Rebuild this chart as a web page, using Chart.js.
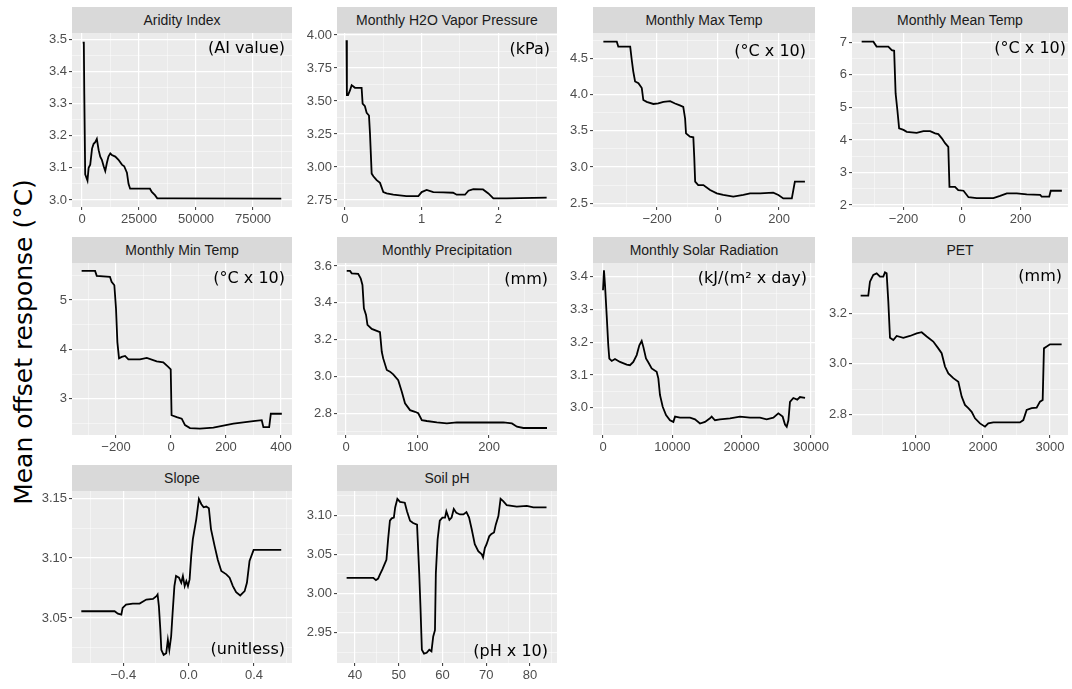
<!DOCTYPE html>
<html>
<head>
<meta charset="utf-8">
<script src="https://cdn.jsdelivr.net/npm/chart.js@4.4.0/dist/chart.umd.min.js"></script>
<style>
  body { margin: 0; background: #fff; width: 1072px; height: 689px; position: relative; overflow: hidden; font-family: "Liberation Sans", Arial, sans-serif; }
  canvas { position: absolute; }
  .strip { position: absolute; background: #d9d9d9; color: #1a1a1a; font-size: 14px; text-align: center; height: 26px; line-height: 26px; white-space: nowrap; }
  .unit { position: absolute; font-family: "DejaVu Sans", sans-serif; font-size: 16px; color: #000; white-space: nowrap; transform: translate(-100%, -50%); z-index: 5; }
  #ytitle { position: absolute; left: 23px; top: 342px; font-family: "DejaVu Sans", sans-serif; font-size: 25px; color: #000; white-space: nowrap; transform: translate(-50%, -50%) rotate(-90deg); }
</style>
</head>
<body>
<div id="ytitle">Mean offset response (°C)</div>
<script>
// ---- data ----
const aridityX = [300, 800, 1000, 1400, 1900, 2400, 2900, 3600, 4400, 5100, 5800, 6500, 7300, 8000, 8700, 9500, 10200, 10900, 11600, 12400, 13100, 14600, 16000, 17500, 18500, 19700, 20400, 21100, 22600, 27000, 29800, 30600, 32000, 33000, 34200, 40000, 87400];
const aridityY = [3.49, 3.49, 3.33, 3.08, 3.07, 3.06, 3.10, 3.11, 3.16, 3.175, 3.18, 3.19, 3.155, 3.135, 3.125, 3.105, 3.09, 3.115, 3.135, 3.145, 3.14, 3.135, 3.125, 3.11, 3.105, 3.085, 3.05, 3.035, 3.035, 3.035, 3.035, 3.025, 3.015, 3.005, 3.005, 3.005, 3.004];

const vaporX = [0.02, 0.025, 0.04, 0.065, 0.087, 0.11, 0.13, 0.20, 0.217, 0.23, 0.26, 0.283, 0.313, 0.326, 0.348, 0.37, 0.413, 0.457, 0.50, 0.543, 0.63, 0.80, 0.957, 1.0, 1.065, 1.152, 1.28, 1.41, 1.457, 1.565, 1.61, 1.674, 1.80, 1.87, 1.935, 2.11, 2.63];
const vaporY = [3.96, 3.545, 3.545, 3.58, 3.62, 3.61, 3.60, 3.60, 3.60, 3.48, 3.46, 3.41, 3.39, 3.255, 2.95, 2.93, 2.90, 2.88, 2.81, 2.80, 2.79, 2.78, 2.78, 2.81, 2.826, 2.81, 2.808, 2.805, 2.79, 2.79, 2.82, 2.833, 2.83, 2.80, 2.762, 2.762, 2.768];

const maxTempX = [-376, -332, -327, -288, -283, -278, -272, -261, -250, -245, -234, -212, -196, -179, -157, -141, -125, -114, -108, -105, -92, -81, -78, -75, -65, -48, -26, -4, 17, 50, 83, 105, 138, 181, 198, 214, 242, 252, 285];
const maxTempY = [4.73, 4.73, 4.66, 4.66, 4.48, 4.32, 4.18, 4.155, 4.09, 3.925, 3.90, 3.87, 3.877, 3.90, 3.91, 3.877, 3.85, 3.83, 3.67, 3.465, 3.42, 3.41, 3.14, 2.80, 2.752, 2.752, 2.683, 2.637, 2.615, 2.592, 2.615, 2.637, 2.637, 2.646, 2.615, 2.568, 2.568, 2.80, 2.80];

const meanTempX = [-343, -303, -292, -252, -240, -232, -227, -221, -215, -200, -189, -155, -132, -109, -92, -81, -69, -58, -47, -43, -24, -13, 5, 22, 50, 107, 130, 153, 187, 221, 267, 272, 298, 303, 341];
const meanTempY = [7.02, 7.02, 6.87, 6.87, 6.76, 6.74, 5.43, 4.92, 4.36, 4.31, 4.25, 4.22, 4.27, 4.27, 4.20, 4.18, 4.05, 3.90, 3.79, 2.56, 2.56, 2.46, 2.44, 2.24, 2.21, 2.21, 2.28, 2.36, 2.36, 2.33, 2.31, 2.26, 2.26, 2.44, 2.44];

const minTempX = [-325, -276, -270, -222, -216, -206, -200, -195, -189, -179, -167, -155, -113, -88, -52, -28, -10, -1, 2, 21, 39, 51, 69, 105, 154, 227, 299, 330, 336, 357, 363, 403];
const minTempY = [5.59, 5.59, 5.49, 5.47, 5.37, 5.30, 4.83, 4.15, 3.82, 3.85, 3.87, 3.80, 3.80, 3.83, 3.76, 3.74, 3.65, 3.60, 2.67, 2.63, 2.60, 2.47, 2.41, 2.40, 2.42, 2.50, 2.55, 2.57, 2.43, 2.43, 2.70, 2.70];

const precipX = [1, 5.6, 8, 17, 20.5, 23, 25, 28, 30, 36, 43, 47.5, 50, 52, 57, 61.5, 66, 73, 78, 82.5, 89.5, 96.5, 101, 106, 113, 127, 141, 155, 183, 220, 232, 239, 248, 281];
const precipY = [3.573, 3.573, 3.56, 3.557, 3.533, 3.497, 3.37, 3.334, 3.28, 3.258, 3.247, 3.24, 3.134, 3.098, 3.035, 3.026, 3.011, 2.98, 2.917, 2.854, 2.817, 2.808, 2.80, 2.763, 2.758, 2.75, 2.745, 2.75, 2.75, 2.75, 2.745, 2.727, 2.72, 2.72];

const solarX = [0, 140, 290, 530, 760, 910, 1260, 1730, 2450, 3420, 3890, 4370, 4860, 5240, 5580, 5820, 6200, 6530, 7020, 7740, 7980, 8220, 8610, 9090, 9660, 10150, 10390, 11110, 12550, 13270, 13990, 14710, 15430, 15670, 16150, 16870, 18320, 19760, 21200, 22640, 23600, 24570, 25290, 25910, 26250, 26500, 26740, 26970, 27450, 28020, 28410, 29140];
const solarY = [3.359, 3.42, 3.375, 3.283, 3.191, 3.15, 3.143, 3.149, 3.14, 3.132, 3.13, 3.14, 3.161, 3.191, 3.204, 3.186, 3.151, 3.139, 3.12, 3.11, 3.09, 3.039, 3.003, 2.978, 2.962, 2.957, 2.973, 2.97, 2.97, 2.965, 2.952, 2.957, 2.968, 2.973, 2.962, 2.965, 2.968, 2.973, 2.97, 2.97, 2.965, 2.97, 2.983, 2.973, 2.949, 2.942, 2.962, 3.018, 3.03, 3.025, 3.033, 3.03];

const petX = [174, 288, 313, 339, 363, 413, 463, 512, 537, 562, 587, 612, 662, 712, 811, 910, 1010, 1085, 1160, 1258, 1333, 1383, 1433, 1483, 1557, 1632, 1682, 1731, 1781, 1831, 1881, 1955, 2030, 2079, 2154, 2353, 2552, 2602, 2652, 2726, 2801, 2851, 2891, 2910, 2951, 3000, 3174];
const petY = [3.27, 3.27, 3.325, 3.339, 3.352, 3.358, 3.345, 3.345, 3.362, 3.358, 3.246, 3.103, 3.094, 3.11, 3.103, 3.11, 3.12, 3.125, 3.108, 3.088, 3.061, 3.042, 2.989, 2.962, 2.943, 2.929, 2.87, 2.837, 2.824, 2.81, 2.784, 2.764, 2.751, 2.764, 2.768, 2.768, 2.768, 2.777, 2.817, 2.824, 2.826, 2.85, 2.857, 3.061, 3.068, 3.077, 3.077];

const slopeX = [-0.657, -0.453, -0.433, -0.412, -0.404, -0.383, -0.342, -0.30, -0.259, -0.218, -0.197, -0.19, -0.182, -0.173, -0.167, -0.153, -0.137, -0.127, -0.118, -0.107, -0.098, -0.087, -0.077, -0.059, -0.045, -0.035, -0.024, -0.014, -0.004, 0.006, 0.016, 0.026, 0.047, 0.063, 0.078, 0.092, 0.108, 0.124, 0.137, 0.159, 0.179, 0.20, 0.231, 0.251, 0.271, 0.291, 0.316, 0.343, 0.357, 0.373, 0.398, 0.475, 0.567];
const slopeY = [3.0556, 3.0556, 3.0536, 3.0528, 3.0584, 3.0612, 3.062, 3.062, 3.0654, 3.0659, 3.0682, 3.0696, 3.0598, 3.04, 3.0234, 3.0192, 3.0206, 3.0318, 3.0234, 3.0345, 3.0542, 3.0766, 3.085, 3.0836, 3.0794, 3.085, 3.0766, 3.0808, 3.0766, 3.0822, 3.1018, 3.1158, 3.1326, 3.1494, 3.145, 3.1424, 3.143, 3.1416, 3.1242, 3.1102, 3.0984, 3.0892, 3.0864, 3.0836, 3.0766, 3.0715, 3.0688, 3.0724, 3.0794, 3.0976, 3.1068, 3.1068, 3.1068];

const soilPhX = [38.1, 44.2, 44.8, 45.3, 45.7, 46.3, 46.9, 47.2, 47.6, 48, 48.4, 48.9, 49.2, 49.7, 50.3, 51.4, 51.9, 52.6, 53.3, 54.2, 54.7, 55, 55.3, 55.8, 56.4, 57, 57.5, 57.9, 58.3, 58.5, 58.9, 59.4, 60, 60.6, 60.9, 61.6, 62.1, 62.6, 63.2, 64, 64.8, 65.5, 66.1, 66.7, 67.4, 68.2, 69, 69.3, 69.7, 70.1, 70.7, 71.2, 71.8, 72.2, 72.8, 73.3, 73.9, 74.7, 77, 79.3, 80.8, 83.8];
const soilPhY = [3.02, 3.02, 3.017, 3.019, 3.024, 3.031, 3.039, 3.043, 3.07, 3.093, 3.096, 3.097, 3.11, 3.121, 3.117, 3.116, 3.105, 3.093, 3.09, 3.088, 3.026, 2.98, 2.928, 2.923, 2.924, 2.928, 2.926, 2.945, 2.953, 3.026, 3.069, 3.093, 3.097, 3.097, 3.105, 3.094, 3.097, 3.108, 3.103, 3.101, 3.101, 3.104, 3.097, 3.082, 3.063, 3.054, 3.05, 3.046, 3.058, 3.063, 3.073, 3.076, 3.078, 3.088, 3.099, 3.121, 3.118, 3.113, 3.111, 3.112, 3.11, 3.11];

// tick labels
const aridityXTicks = ['0', '25000', '50000', '75000'];
const aridityYTicks = ['3.0', '3.1', '3.2', '3.3', '3.4', '3.5'];
const vaporXTicks = ['0', '1', '2'];
const vaporYTicks = ['2.75', '3.00', '3.25', '3.50', '3.75', '4.00'];
const maxTempXTicks = ['−200', '0', '200'];
const maxTempYTicks = ['2.5', '3.0', '3.5', '4.0', '4.5'];
const meanTempXTicks = ['−200', '0', '200'];
const meanTempYTicks = ['2', '3', '4', '5', '6', '7'];
const minTempXTicks = ['−200', '0', '200', '400'];
const minTempYTicks = ['3', '4', '5'];
const precipXTicks = ['0', '100', '200'];
const precipYTicks = ['2.8', '3.0', '3.2', '3.4', '3.6'];
const solarXTicks = ['0', '10000', '20000', '30000'];
const solarYTicks = ['3.0', '3.1', '3.2', '3.3', '3.4'];
const petXTicks = ['1000', '2000', '3000'];
const petYTicks = ['2.8', '3.0', '3.2'];
const slopeXTicks = ['−0.4', '0.0', '0.4'];
const slopeYTicks = ['3.05', '3.10', '3.15'];
const soilPhXTicks = ['40', '50', '60', '70', '80'];
const soilPhYTicks = ['2.95', '3.00', '3.05', '3.10'];

// ---- layout ----
const colLeft = [72, 337, 593, 852];
const colRight = [292, 557, 815, 1068];
const stripTop = [7, 237, 465];
const plotBottom = [207, 435, 663];
const stripH = 26;

const panels = [
  {title: 'Aridity Index', unit: '(AI value)', col: 0, row: 0, x: aridityX, y: aridityY, xt: aridityXTicks, yt: aridityYTicks, xlim: [-4390, 92100], ylim: [2.978, 3.52], ux: 285, uy: 47},
  {title: 'Monthly H2O Vapor Pressure', unit: '(kPa)', col: 1, row: 0, x: vaporX, y: vaporY, xt: vaporXTicks, yt: vaporYTicks, xlim: [-0.104, 2.765], ylim: [2.697, 4.015], ux: 550, uy: 48},
  {title: 'Monthly Max Temp', unit: '(°C x 10)', col: 2, row: 0, x: maxTempX, y: maxTempY, xt: maxTempXTicks, yt: maxTempYTicks, xlim: [-410, 318], ylim: [2.449, 4.849], ux: 806, uy: 50},
  {title: 'Monthly Mean Temp', unit: '(°C x 10)', col: 3, row: 0, x: meanTempX, y: meanTempY, xt: meanTempXTicks, yt: meanTempYTicks, xlim: [-376, 362], ylim: [1.94, 7.286], ux: 1066, uy: 47},
  {title: 'Monthly Min Temp', unit: '(°C x 10)', col: 0, row: 1, x: minTempX, y: minTempY, xt: minTempXTicks, yt: minTempYTicks, xlim: [-360, 440], ylim: [2.27, 5.75], ux: 285, uy: 277},
  {title: 'Monthly Precipitation', unit: '(mm)', col: 1, row: 1, x: precipX, y: precipY, xt: precipXTicks, yt: precipYTicks, xlim: [-12.6, 295], ylim: [2.682, 3.616], ux: 548, uy: 278},
  {title: 'Monthly Solar Radiation', unit: '(kJ/(m² x day)', col: 2, row: 1, x: solarX, y: solarY, xt: solarXTicks, yt: solarYTicks, xlim: [-1442, 30577], ylim: [2.917, 3.442], ux: 807, uy: 277},
  {title: 'PET', unit: '(mm)', col: 3, row: 1, x: petX, y: petY, xt: petXTicks, yt: petYTicks, xlim: [45, 3269], ylim: [2.718, 3.399], ux: 1062, uy: 275},
  {title: 'Slope', unit: '(unitless)', col: 0, row: 2, x: slopeX, y: slopeY, xt: slopeXTicks, yt: slopeYTicks, xlim: [-0.714, 0.633], ylim: [3.0124, 3.156], ux: 285, uy: 648},
  {title: 'Soil pH', unit: '(pH x 10)', col: 1, row: 2, x: soilPhX, y: soilPhY, xt: soilPhXTicks, yt: soilPhYTicks, xlim: [35.9, 86.2], ylim: [2.911, 3.131], ux: 548, uy: 650}
];

Chart.defaults.font.family = '"Liberation Sans", Arial, sans-serif';

// grey panel background like ggplot
const panelBg = {
  id: 'panelBg',
  beforeDraw(chart) {
    const {ctx, chartArea: a} = chart;
    ctx.save();
    ctx.fillStyle = '#ebebeb';
    ctx.fillRect(a.left, a.top, a.right - a.left, a.bottom - a.top);
    ctx.restore();
  }
};

const num = s => parseFloat(s.replace('−', '-'));

// major ticks from labels, minor ones halfway between
function axisSpec(labels, lim) {
  const major = labels.map(num);
  const step = major[1] - major[0];
  const minor = [];
  for (let v = major[0] - step / 2; v <= major[major.length - 1] + step / 2 + 1e-9; v += step) {
    if (v >= lim[0] && v <= lim[1]) minor.push(v);
  }
  const lookup = {};
  major.forEach((v, i) => { lookup[v.toFixed(6)] = labels[i]; });
  const all = major.concat(minor).sort((a, b) => a - b);
  return {all, lookup};
}

function scaleOpts(labels, lim, isX, fitSize) {
  const spec = axisSpec(labels, lim);
  const isMajor = v => spec.lookup[v.toFixed(6)] !== undefined;
  return {
    type: 'linear',
    min: lim[0],
    max: lim[1],
    afterBuildTicks: s => { s.ticks = spec.all.map(v => ({value: v})); },
    afterFit: s => { if (isX) s.height = fitSize; else s.width = fitSize; },
    border: {display: false},
    grid: {
      color: c => isMajor(c.tick.value) ? '#ffffff' : 'rgba(255,255,255,0.55)',
      lineWidth: c => isMajor(c.tick.value) ? 1.2 : 0.8,
      tickColor: c => isMajor(c.tick.value) ? '#333333' : 'rgba(0,0,0,0)',
      tickWidth: 1,
      tickLength: 3,
      drawTicks: true
    },
    ticks: {
      autoSkip: false,
      maxRotation: 0,
      padding: 2,
      color: '#4d4d4d',
      font: {size: 13},
      callback: v => spec.lookup[v.toFixed(6)] || ''
    }
  };
}

const axisW = 44, axisH = 24, padTop = 10, padRight = 26;

panels.forEach(p => {
  const L = colLeft[p.col], R = colRight[p.col];
  const T = stripTop[p.row] + stripH, B = plotBottom[p.row];

  const strip = document.createElement('div');
  strip.className = 'strip';
  strip.style.left = L + 'px';
  strip.style.top = stripTop[p.row] + 'px';
  strip.style.width = (R - L) + 'px';
  strip.textContent = p.title;
  document.body.appendChild(strip);

  const w = R - L + axisW + padRight, h = B - T + padTop + axisH;
  const cv = document.createElement('canvas');
  cv.width = w; cv.height = h;
  cv.style.width = w + 'px'; cv.style.height = h + 'px';
  cv.style.left = (L - axisW) + 'px';
  cv.style.top = (T - padTop) + 'px';
  document.body.appendChild(cv);

  new Chart(cv, {
    type: 'line',
    data: {
      datasets: [{
        data: p.x.map((v, i) => ({x: v, y: p.y[i]})),
        borderColor: '#000',
        borderWidth: 1.8,
        pointRadius: 0,
        tension: 0,
        fill: false
      }]
    },
    options: {
      responsive: false,
      animation: false,
      layout: {padding: {left: 0, top: padTop, right: padRight, bottom: 0}},
      plugins: {legend: {display: false}, tooltip: {enabled: false}},
      scales: {
        x: scaleOpts(p.xt, p.xlim, true, axisH),
        y: scaleOpts(p.yt, p.ylim, false, axisW)
      }
    },
    plugins: [panelBg]
  });

  const u = document.createElement('div');
  u.className = 'unit';
  u.style.left = p.ux + 'px';
  u.style.top = p.uy + 'px';
  u.textContent = p.unit;
  document.body.appendChild(u);
});
</script>
</body>
</html>
